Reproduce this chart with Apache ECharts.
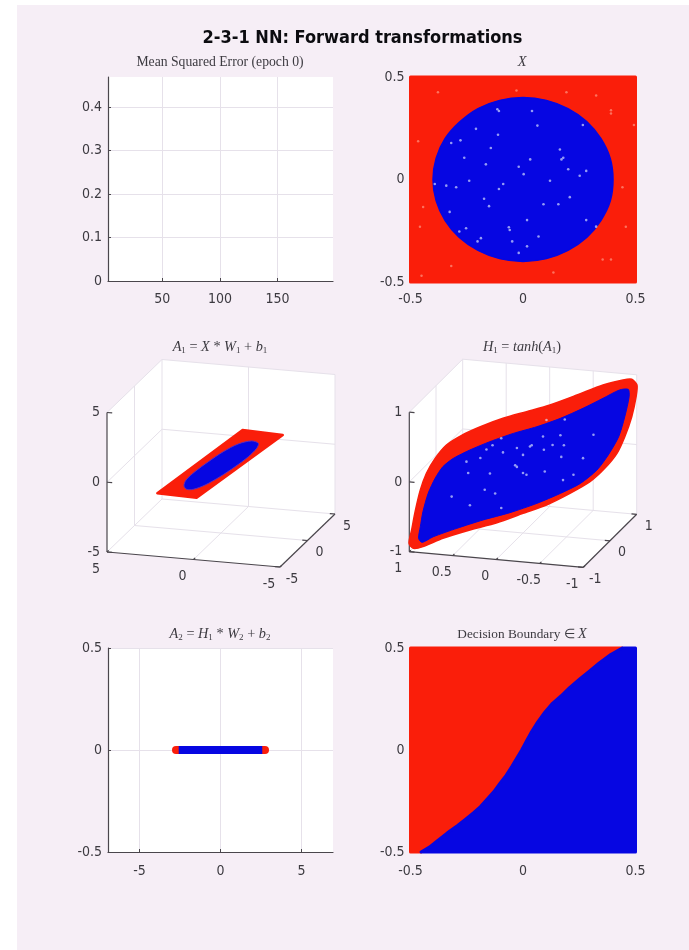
<!DOCTYPE html>
<html><head><meta charset="utf-8">
<style>
html,body{margin:0;padding:0;background:#fff;width:689px;height:950px;overflow:hidden}
#c{width:689px;height:950px;filter:blur(0.45px)}
</style>
<script src="https://cdn.jsdelivr.net/npm/echarts@6/dist/echarts.min.js"></script>
</head><body><div id="c"></div>
<script>
// ---------- data ----------
const mainTitle = '2-3-1 NN: Forward transformations';
const mseValues = []; // epoch 0: nothing plotted yet
const mseXTicks = [50, 100, 150];
const mseYTicks = [0, 0.1, 0.2, 0.3, 0.4];
const a2XTicks = [-5, 0, 5];

// X panel
const squareX = [-0.5, 0.5, 0.5, -0.5];
const squareY = [-0.5, -0.5, 0.5, 0.5];
const circleX = [0.400, 0.388, 0.346, 0.283, 0.200, 0.104, 0.000, -0.104, -0.200, -0.281, -0.346, -0.386, -0.400, -0.386, -0.346, -0.283, -0.200, -0.104, 0.000, 0.104, 0.200, 0.283, 0.346, 0.388];
const circleY = [0.000, 0.102, 0.200, 0.283, 0.346, 0.386, 0.400, 0.386, 0.346, 0.281, 0.200, 0.104, 0.000, -0.104, -0.200, -0.283, -0.346, -0.386, -0.400, -0.386, -0.346, -0.283, -0.200, -0.104];
const specksBlueX = [-.114,-.107,.040,.064,-.111,-.278,-.319,-.209,.179,.171,-.019,.003,-.165,.032,.281,.252,-.239,-.261,-.088,-.107,-.297,-.341,-.392,.091,.157,-.063,-.059,-.187,-.202,-.283,-.326,-.151,-.253,-.048,-.019,.069,.281,.325,.201,.164,-.143,-.173,.018,.120,.266,.208,.018];
const specksBlueY = [.343,.334,.334,.263,.218,.191,.178,.247,.106,.098,.062,.026,.074,.098,.042,.018,-.006,.106,-.022,-.046,-.038,-.030,-.022,-.121,-.121,-.233,-.246,-.286,-.302,-.254,-.158,-.130,-.238,-.302,-.358,-.278,-.198,-.230,.050,.146,.154,-.094,-.198,-.006,.266,-.086,-.326];
const specksRedX = [.391,.391,-.029,-.451,-.444,-.378,-.458,.135,.354,.457,-.319,.493,-.466,.325,.193,.442,.391];
const specksRedY = [.338,.322,.434,-.470,-.134,.426,-.230,-.454,-.390,-.230,-.422,.266,.186,.410,.426,-.038,-.390];

// A1 panel: outlines given as x,z where they cross the mid plane y = 0
const a1Lim = 5;
const a1Ticks = [-5, 0, 5];
const a1RedX = [3.68, 1.41, -3.57, -1.25];
const a1RedZ = [-2.55, -2.62, 2.41, 2.52];
const a1BlueX = [2.14, 2.02, 1.50, .73, -.13, -1.00, -1.77, -2.16, -2.06, -1.58, -.81, .06, .92, 1.60, 1.98];
const a1BlueZ = [-1.86, -1.42, -.76, .03, .84, 1.49, 1.79, 1.66, 1.29, .64, -.16, -.97, -1.66, -2.04, -2.08];

// H1 panel: outlines given the same way
const h1Lim = 1;
const h1XTicks = [1, 0.5, 0, -0.5, -1];
const h1YTicks = [-1, 0, 1];
const h1ZTicks = [-1, 0, 1];
const h1RedX = [1.31,1.28,1.24,1.18,1.11,1.01,.88,.70,.49,.23,-.04,-.31,-.62,-.92,-1.15,-1.25,-1.31,-1.30,-1.25,-1.17,-1.08,-.94,-.77,-.54,-.27,0,.30,.61,.92,1.15,1.26];
const h1RedZ = [-1.294,-1.10,-.833,-.516,-.268,-.043,.164,.326,.469,.619,.744,.870,1.047,1.225,1.322,1.343,1.268,1.099,.807,.512,.263,.033,-.178,-.371,-.568,-.718,-.886,-1.025,-1.179,-1.324,-1.361];
const h1BlueX = [1.20,1.18,1.15,1.09,1.01,.92,.80,.61,.38,.11,-.16,-.43,-.69,-.92,-1.11,-1.21,-1.22,-1.17,-1.10,-.98,-.85,-.66,-.43,-.16,.15,.46,.76,1.03,1.16];
const h1BlueZ = [-1.211,-1.042,-.822,-.553,-.329,-.151,-.019,.122,.267,.416,.542,.692,.865,1.034,1.175,1.195,1.091,.799,.504,.228,-.002,-.215,-.384,-.557,-.725,-.865,-1.018,-1.168,-1.264];
const h1SpeckX = [.42,.35,.49,.23,.25,-.10,-.08,-.34,-.47,-.24,-.44,-.69,.09,.07,0,-.04,-.25,.38,.63,.32,.44,.61,.82,.25,-.46,-.58,-.27,-.48,-.43,-.81,-.23,.07,.65,0];
const h1SpeckZ = [.15,.22,.02,.13,.33,.27,.25,.30,.31,.22,.14,.15,-.04,-.06,-.14,-.16,-.09,-.19,-.21,-.47,-.43,-.67,-.57,-.67,-.19,-.10,.65,.68,.45,.50,.41,.21,-.05,.12];

// A2 panel
const a2RedX = [-2.75, 2.75];
const a2BlueX = [-2.58, 2.58];
const a2Y = [0, 0];

// Decision boundary panel
const boundaryX = [-.453,-.416,-.380,-.336,-.292,-.255,-.218,-.189,-.160,-.130,-.101,-.075,-.050,-.028,-.006,.016,.038,.065,.097,.131,.170,.207,.251,.295,.339,.390,.441];
const boundaryY = [-.50,-.476,-.444,-.406,-.371,-.339,-.306,-.277,-.242,-.205,-.161,-.124,-.081,-.040,0,.045,.089,.137,.185,.229,.266,.306,.347,.387,.427,.468,.50];

// ---------- styles ----------
const RED = '#fa1e0a', BLUE = '#0606e2', DARK = '#4a464c', LIGHT = '#e6e1ea', TXT = '#3c3a40';
const FIG = '#f6eef6';
const TICK_FONT = '"Liberation Sans Narrow","DejaVu Sans Condensed","DejaVu Sans",sans-serif';
const BOLD_FONT = '"DejaVu Sans Condensed","DejaVu Sans",sans-serif';
const SERIF = '"Liberation Serif",serif';
const TICK_SIZE = 14;
const zip = (a, b) => a.map((v, i) => [v, b[i]]);

const grids = [
  {left:108, top:77,  width:225, height:204},
  {left:410.5, top:77,  width:225, height:205},
  {left:100, top:350, width:250, height:240},
  {left:400, top:350, width:250, height:240},
  {left:108, top:648, width:225, height:204},
  {left:410.5, top:648, width:225, height:204}
];
const fmt = v => String(v);
function axis2d(type, idx, cfg){
  return {
    type:'value', gridIndex:idx, min:cfg.min, max:cfg.max,
    axisLine:{show:true, onZero:false, lineStyle:{color:DARK, width:1.2}},
    axisTick:{show:true, inside:true, length:3, lineStyle:{color:DARK}, customValues:cfg.ticks},
    axisLabel:{show:true, margin:cfg.margin, color:TXT, fontSize:TICK_SIZE, fontFamily:TICK_FONT, formatter:fmt, customValues:cfg.ticks, showMinLabel:true, showMaxLabel:true},
    splitLine:{show:true, lineStyle:{color:LIGHT, width:1}}
  };
}
function hidden(idx, max, inverse){
  return {type:'value', gridIndex:idx, min:0, max:max, inverse:!!inverse, show:false, splitLine:{show:false}};
}
const half = [-0.5, 0, 0.5];
const xAxes = [
  axis2d('x',0,{min:3,max:198,ticks:mseXTicks,margin:11}),
  axis2d('x',1,{min:-0.5,max:0.5,ticks:half,margin:10}),
  hidden(2,250),
  hidden(3,250),
  axis2d('x',4,{min:-6.95,max:6.95,ticks:a2XTicks,margin:12}),
  axis2d('x',5,{min:-0.5,max:0.5,ticks:half,margin:12})
];
const yAxes = [
  axis2d('y',0,{min:0,max:0.469,ticks:mseYTicks,margin:6}),
  axis2d('y',1,{min:-0.5,max:0.5,ticks:half,margin:6}),
  hidden(2,240,true),
  hidden(3,240,true),
  axis2d('y',4,{min:-0.5,max:0.5,ticks:half,margin:6}),
  axis2d('y',5,{min:-0.5,max:0.5,ticks:half,margin:6})
];

// 3D -> view plane (orthographic)
function projector(o){
  return (x,y,z) => [ o.O[0] + (o.L-x)*o.ax + (y+o.L)*o.bx,
                      o.O[1] + (o.L-x)*o.ay + (y+o.L)*o.by + (z+o.L)*o.cz ];
}
const view3 = projector({L:a1Lim, O:[7,202],   ax:17.3, ay:1.5, bx:5.5,  by:-5.3,  cz:-13.95});
const view4 = projector({L:h1Lim, O:[9.3,201.7], ax:87, ay:7.8, bx:26.7, by:-26.5, cz:-69.75});

function polygonSeries(idx, pts, fill, stroke, lw, z, smooth){
  return {type:'custom', xAxisIndex:idx, yAxisIndex:idx, z:z, clip:false, silent:true, animation:false, data:[0],
    renderItem:(p,api)=>({type:'polygon', shape:{points:pts.map(q=>api.coord(q)), smooth:smooth||0},
      style:{fill:fill, stroke:stroke, lineWidth:lw, lineJoin:'round'}})};
}
function speckSeries(idx, pts, color, size, z){
  return {type:'scatter', xAxisIndex:idx, yAxisIndex:idx, z:z, silent:true, animation:false, symbolSize:size,
    itemStyle:{color:color}, data:pts};
}
function box3d(idx, view, L, xT, yT, zT, labelX, labelY, labelZ){
  const lights = [], darks = [], texts = [];
  const seg = (arr,a,b)=>arr.push([view(...a),view(...b)]);
  [[[L,L,-L],[L,-L,-L]],[[L,L,-L],[-L,L,-L]],[[L,L,-L],[L,L,L]],[[L,-L,L],[L,L,L]],[[L,L,L],[-L,L,L]],[[-L,L,L],[-L,L,-L]]]
    .forEach(s=>seg(lights,s[0],s[1]));
  xT.forEach(t=>{ if(Math.abs(t)<L){ seg(lights,[t,L,-L],[t,L,L]); seg(lights,[t,-L,-L],[t,L,-L]); } });
  yT.forEach(t=>{ if(Math.abs(t)<L){ seg(lights,[L,t,-L],[L,t,L]); seg(lights,[L,t,-L],[-L,t,-L]); } });
  zT.forEach(t=>{ if(Math.abs(t)<L){ seg(lights,[L,-L,t],[L,L,t]); seg(lights,[L,L,t],[-L,L,t]); } });
  seg(darks,[L,-L,-L],[L,-L,L]); seg(darks,[L,-L,-L],[-L,-L,-L]); seg(darks,[-L,-L,-L],[-L,L,-L]);
  const d = 0.03*2*L;
  xT.forEach((t,i)=>{ seg(darks,[t,-L,-L],[t,-L+d,-L]); const p=view(t,-L,-L); texts.push([p[0]-11,p[1]+17,labelX[i],'center']); });
  yT.forEach((t,i)=>{ seg(darks,[-L,t,-L],[-L+d,t,-L]); const p=view(-L,t,-L); texts.push([p[0]+12,p[1]+12,labelY[i],'center']); });
  zT.forEach((t,i)=>{ seg(darks,[L,-L,t],[L-d,-L,t]); const p=view(L,-L,t); texts.push([p[0]-7,p[1],labelZ[i],'right']); });
  const hull = [[L,-L,-L],[-L,-L,-L],[-L,L,-L],[-L,L,L],[L,L,L],[L,-L,L]].map(c=>view(...c));
  return {type:'custom', xAxisIndex:idx, yAxisIndex:idx, z:1, clip:false, silent:true, animation:false, data:[0],
    renderItem:(p,api)=>{
      const line=(s,c,w)=>{const a=api.coord(s[0]),b=api.coord(s[1]);return {type:'line',shape:{x1:a[0],y1:a[1],x2:b[0],y2:b[1]},style:{stroke:c,lineWidth:w}};};
      return {type:'group',children:[
        {type:'polygon',shape:{points:hull.map(q=>api.coord(q))},style:{fill:'#ffffff'}},
        ...lights.map(s=>line(s,LIGHT,1)),
        ...darks.map(s=>line(s,DARK,1.2)),
        ...texts.map(t=>{const a=api.coord([t[0],t[1]]);return {type:'text',style:{text:fmt(t[2]),x:a[0],y:a[1],align:t[3],verticalAlign:'middle',fontSize:TICK_SIZE,fontFamily:TICK_FONT,fill:TXT}};})
      ]};
    }};
}

const onPlane = (view,xs,zs)=>xs.map((x,i)=>view(x,0,zs[i]));

const series = [
  // MSE panel
  {type:'line', xAxisIndex:0, yAxisIndex:0, data:mseValues, showSymbol:false, animation:false, lineStyle:{color:BLUE}},
  // X panel
  polygonSeries(1, zip(squareX,squareY), RED, RED, 3, 3),
  polygonSeries(1, zip(circleX,circleY), BLUE, BLUE, 1.5, 4, 0.25),
  speckSeries(1, zip(specksRedX,specksRedY), 'rgba(255,170,150,0.75)', 2.5, 5),
  speckSeries(1, zip(specksBlueX,specksBlueY), 'rgba(215,225,255,0.85)', 2.6, 5),
  // A1 panel
  box3d(2, view3, a1Lim, [5,0,-5], a1Ticks, a1Ticks, [5,0,-5], [-5,0,5], [-5,0,5]),
  polygonSeries(2, onPlane(view3,a1RedX,a1RedZ), RED, RED, 2.5, 3),
  polygonSeries(2, onPlane(view3,a1BlueX,a1BlueZ), BLUE, '#5a2cc0', 1, 4, 0.3),
  // H1 panel
  box3d(3, view4, h1Lim, h1XTicks, h1YTicks, h1ZTicks, h1XTicks, h1YTicks, h1ZTicks),
  polygonSeries(3, onPlane(view4,h1RedX,h1RedZ), RED, RED, 1.5, 3, 0.25),
  polygonSeries(3, onPlane(view4,h1BlueX,h1BlueZ), BLUE, BLUE, 1, 4, 0.25),
  speckSeries(3, onPlane(view4,h1SpeckX,h1SpeckZ), 'rgba(215,225,255,0.85)', 2.6, 5),
  // A2 panel
  {type:'line', xAxisIndex:4, yAxisIndex:4, data:zip(a2RedX,a2Y), showSymbol:false, animation:false, silent:true, z:3,
   lineStyle:{color:RED, width:8, cap:'round'}},
  {type:'line', xAxisIndex:4, yAxisIndex:4, data:zip(a2BlueX,a2Y), showSymbol:false, animation:false, silent:true, z:4,
   lineStyle:{color:BLUE, width:8, cap:'butt'}},
  // Decision boundary panel
  polygonSeries(5, zip(boundaryX,boundaryY).concat([[-0.5,0.5],[-0.5,-0.5]]), RED, RED, 3, 3),
  polygonSeries(5, zip(boundaryX,boundaryY).concat([[0.5,0.5],[0.5,-0.5]]), BLUE, BLUE, 3, 4)
];

const rich = {
  r:{fontFamily:SERIF, fontSize:14.3, color:TXT},
  i:{fontFamily:SERIF, fontSize:14.3, fontStyle:'italic', color:TXT},
  s:{fontFamily:SERIF, fontSize:9, color:TXT, verticalAlign:'bottom', padding:[6,0,0,0]},
  d:{fontFamily:SERIF, fontSize:13.3, color:TXT}
};
const subTitle = (text,cx,cy)=>({text:text, left:cx, top:cy, padding:0, textAlign:'center', textVerticalAlign:'middle',
  textStyle:{fontWeight:'normal', fontFamily:SERIF, fontSize:13.7, color:TXT, rich:rich}});
const option = {
  animation:false,
  backgroundColor:'#ffffff',
  graphic:[{type:'rect', z:-10, silent:true, shape:{x:17,y:5,width:672,height:945}, style:{fill:FIG}}],
  title:[
    {text:mainTitle, left:362.5, top:38, padding:0, textAlign:'center', textVerticalAlign:'middle',
     textStyle:{fontFamily:BOLD_FONT, fontWeight:'bold', fontSize:18, color:'#0c0c10'}},
    subTitle('Mean Squared Error (epoch 0)',220,62.5),
    subTitle('{i|X}',522,62.5),
    subTitle('{i|A}{s|1}{r| = }{i|X}{r| * }{i|W}{s|1}{r| + }{i|b}{s|1}',220,347.5),
    subTitle('{i|H}{s|1}{r| = }{i|tanh}{r|(}{i|A}{s|1}{r|)}',522,347.5),
    subTitle('{i|A}{s|2}{r| = }{i|H}{s|1}{r| * }{i|W}{s|2}{r| + }{i|b}{s|2}',220,634.5),
    subTitle('{d|Decision Boundary ∈ }{i|X}',522,634.5)
  ],
  grid:grids.map((g,i)=>Object.assign({show:(i===0||i===1||i===4||i===5), backgroundColor:'#ffffff', borderWidth:0},g)),
  xAxis:xAxes, yAxis:yAxes, series:series
};
const chart = echarts.init(document.getElementById('c'), null, {renderer:'canvas', width:689, height:950});
chart.setOption(option);
</script></body></html>
